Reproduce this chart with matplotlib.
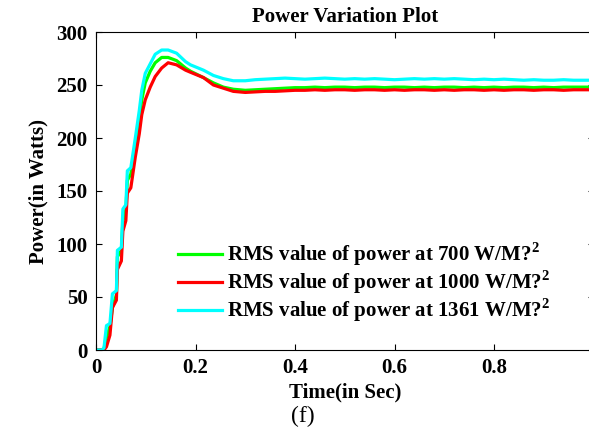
import matplotlib
matplotlib.use('Agg')
import matplotlib.pyplot as plt

plt.rcParams['font.family'] = 'Liberation Serif'
plt.rcParams['font.weight'] = 'bold'
plt.rcParams['mathtext.fontset'] = 'custom'
plt.rcParams['mathtext.rm'] = 'Liberation Serif:bold'
plt.rcParams['mathtext.bf'] = 'Liberation Serif:bold'

# time base for the start-up transient (s)
t_rise = [0.000, 0.012, 0.016, 0.021, 0.028, 0.033, 0.041, 0.043, 0.051, 0.054,
          0.060, 0.063, 0.070, 0.079, 0.087, 0.092, 0.099, 0.109, 0.119, 0.132,
          0.145, 0.162, 0.180, 0.190, 0.216, 0.236, 0.256, 0.276, 0.300]
# steady-state time base
t_steady = [0.32, 0.34, 0.36, 0.38, 0.40, 0.42, 0.44, 0.46, 0.48, 0.50, 0.52, 0.54,
            0.56, 0.58, 0.60, 0.62, 0.64, 0.66, 0.68, 0.70, 0.72, 0.74, 0.76, 0.78,
            0.80, 0.82, 0.84, 0.86, 0.88, 0.90, 0.92, 0.94, 0.96, 0.98, 1.00]

# RMS power at 1361 W/m^2
p1361_rise = [0, 0, 2, 23, 25, 53, 56, 94, 97, 133,
              137, 169, 172, 200, 226, 245, 261, 270, 279, 283,
              283, 280, 272, 269, 264, 259, 256, 254, 254]
p1361_steady = [255, 255.5, 256, 256.5, 256, 255.5, 256, 256.5, 256, 255.5, 256, 255.5,
                256, 255.5, 255, 255.5, 256, 255.5, 256, 255.5, 256, 255.5, 255, 255.5,
                255, 255.5, 255, 254.5, 255, 254.5, 254.5, 255, 254.5, 254.5, 254.5]

# RMS power at 700 W/m^2
p700_rise = [0, 0, 1, 12, 22, 40, 52, 88, 94, 122,
             132, 160, 166, 194, 218, 236, 252, 263, 271, 276,
             276, 273, 266, 263, 257, 252, 248, 246, 245]
p700_steady = [245.5, 246, 246.5, 247, 247.5, 247.5, 248, 247.5, 248, 248, 247.5, 248,
               248, 247.5, 248, 248, 247.5, 248, 247.5, 248, 248, 247.5, 248, 247.5,
               248, 247.5, 248, 248, 247.5, 248, 247.5, 248, 248, 248, 248]

# RMS power at 1000 W/m^2
p1000_rise = [0, 0, 0, 3, 14, 40, 47, 76, 84, 112,
              122, 148, 153, 182, 204, 222, 236, 248, 258, 266,
              271, 269, 264, 262, 257, 250, 247, 244, 243]
p1000_steady = [243.5, 244, 244, 244.5, 245, 245, 245.5, 245, 245.5, 245.5, 245, 245.5,
                245.5, 245, 245.5, 245, 245.5, 245.5, 245, 245.5, 245, 245.5, 245.5, 245,
                245.5, 245, 245.5, 245.5, 245, 245.5, 245.5, 245, 245.5, 245.5, 245.5]

labels = [r'RMS value of power at 700 W/M?$^{\mathbf{2}}$',
          r'RMS value of power at 1000 W/M?$^{\mathbf{2}}$',
          r'RMS value of power at 1361 W/M?$^{\mathbf{2}}$']
xtick_vals = [0, 0.2, 0.4, 0.6, 0.8, 1.0]
xtick_text = ['0', '0.2', '0.4', '0.6', '0.8', '']

t = t_rise + t_steady

fig = plt.figure(figsize=(5.89, 4.28), dpi=100)
# the x-axis runs to t = 1 just past the right edge of the figure
ax = fig.add_axes([96 / 589, 1 - 350 / 428, 497.5 / 589, (350 - 32) / 428])

ax.plot(t, p700_rise + p700_steady, color='#00ff00', lw=2.3, label=labels[0])
ax.plot(t, p1000_rise + p1000_steady, color='#ff0000', lw=2.3, label=labels[1])
ax.plot(t, p1361_rise + p1361_steady, color='#00ffff', lw=2.3, label=labels[2])

ax.set_xlim(0, 1)
ax.set_ylim(0, 300)
ax.set_xticks(xtick_vals)
ax.set_xticklabels(xtick_text)
ax.set_yticks(range(0, 301, 50))
ax.tick_params(direction='in', length=4, width=0.8, top=True, right=True,
               labelsize=15, pad=6)
for s in ax.spines.values():
    s.set_linewidth(0.8)

ax.set_title('Power Variation Plot', fontsize=15, fontweight='bold', pad=7)
ax.set_xlabel('Time(in Sec)', fontsize=15, fontweight='bold', labelpad=3)
ax.set_ylabel('Power(in Watts)', fontsize=15, fontweight='bold', labelpad=6)

ax.legend(loc='upper left', bbox_to_anchor=(159 / 589, 1 - 222 / 428),
          bbox_transform=fig.transFigure, frameon=False, fontsize=15,
          handlelength=2.1, handletextpad=0.25, labelspacing=0.02)

fig.text(303 / 589, 1 - 416 / 428, '(f)', fontsize=17, fontweight='normal',
         ha='center', va='center')

fig.savefig('out.png', dpi=100)
